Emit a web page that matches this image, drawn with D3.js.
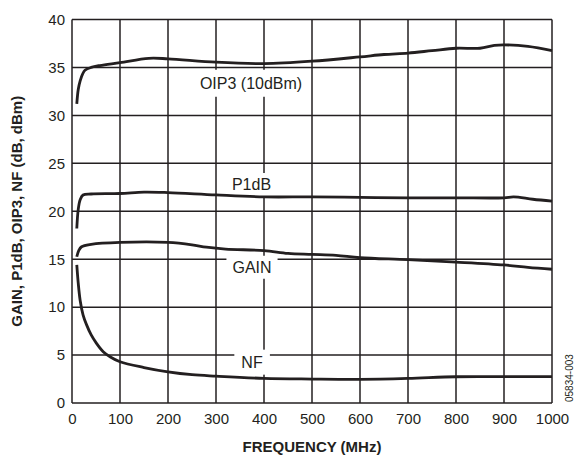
<!DOCTYPE html>
<html>
<head>
<meta charset="utf-8">
<title>gain p1db oip3 nf</title>
<style>
  body { margin: 0; background: #fff; }
  text { font-family: "Liberation Sans", Arial, sans-serif; fill: #231f20; }
  .axis text { font-size: 15px; }
  .grid line { stroke: #231f20; stroke-width: 1.5; }
</style>
</head>
<body>
<script src="https://cdn.jsdelivr.net/npm/d3@7"></script>
<script>
var width = 574, height = 457;
var margin = {left: 72, right: 22, top: 19.5, bottom: 54};

// frequency points (MHz) and values
var oip3Freq = [10, 13, 17, 22, 27, 40, 58, 100, 160, 200, 300, 400, 500, 600, 650, 700, 750, 800, 850, 880, 900, 950, 1000];
var oip3 = [31.2, 32.7, 33.6, 34.3, 34.7, 35.0, 35.2, 35.5, 35.95, 35.9, 35.55, 35.4, 35.65, 36.1, 36.35, 36.5, 36.75, 37.0, 37.0, 37.3, 37.35, 37.2, 36.75];

var p1dbFreq = [10, 13, 17, 23, 40, 100, 150, 200, 300, 400, 500, 600, 700, 800, 900, 920, 960, 1000];
var p1db = [18.2, 20.2, 21.2, 21.7, 21.8, 21.85, 22.0, 21.95, 21.7, 21.5, 21.5, 21.45, 21.4, 21.4, 21.4, 21.5, 21.25, 21.05];

var gainFreq = [10, 14, 20, 40, 100, 200, 250, 280, 320, 400, 450, 500, 550, 600, 700, 800, 900, 950, 1000];
var gain = [15.25, 15.9, 16.3, 16.55, 16.75, 16.75, 16.5, 16.25, 16.05, 15.9, 15.6, 15.5, 15.4, 15.15, 14.95, 14.7, 14.4, 14.15, 13.95];

var nfFreq = [10, 13, 17, 23, 30, 40, 50, 65, 80, 100, 150, 200, 250, 300, 400, 500, 600, 700, 800, 900, 1000];
var nf = [14.4, 12.5, 10.7, 9.2, 8.2, 7.1, 6.3, 5.35, 4.8, 4.3, 3.7, 3.25, 2.95, 2.8, 2.57, 2.5, 2.47, 2.57, 2.74, 2.75, 2.75];

var xTicks = [0, 100, 200, 300, 400, 500, 600, 700, 800, 900, 1000];
var yTicks = [0, 5, 10, 15, 20, 25, 30, 35, 40];

var svg = d3.select('body').append('svg')
  .attr('width', width).attr('height', height);

var x = d3.scaleLinear().domain([0, 1000]).range([margin.left, width - margin.right]);
var y = d3.scaleLinear().domain([0, 40]).range([height - margin.bottom, margin.top]);

// grid
var grid = svg.append('g').attr('class', 'grid');
grid.selectAll('.vx').data(xTicks).enter().append('line')
  .attr('x1', d => x(d)).attr('x2', d => x(d))
  .attr('y1', y(0)).attr('y2', y(40));
grid.selectAll('.hy').data(yTicks).enter().append('line')
  .attr('x1', x(0)).attr('x2', x(1000))
  .attr('y1', d => y(d)).attr('y2', d => y(d));

// axes (labels only)
var xAxis = d3.axisBottom(x).tickValues(xTicks).tickSize(0).tickPadding(10)
  .tickFormat(d3.format('d'));
var yAxis = d3.axisLeft(y).tickValues(yTicks).tickSize(0).tickPadding(7);
svg.append('g').attr('class', 'axis')
  .attr('transform', 'translate(0,' + y(0) + ')')
  .call(xAxis).call(g => g.select('.domain').remove());
svg.append('g').attr('class', 'axis')
  .attr('transform', 'translate(' + x(0) + ',0)')
  .call(yAxis).call(g => g.select('.domain').remove());

// curve labels with white boxes that cut the grid
function label(txt, fx, fy, padX, padY) {
  var g = svg.append('g');
  var t = g.append('text').attr('x', x(fx)).attr('y', y(fy))
    .attr('text-anchor', 'middle').attr('dy', '0.35em')
    .style('font-size', '16px').text(txt);
  var b = t.node().getBBox();
  g.insert('rect', 'text')
    .attr('x', b.x - padX).attr('y', b.y - padY)
    .attr('width', b.width + 2 * padX).attr('height', b.height + 2 * padY)
    .attr('fill', '#fff');
}
label('OIP3 (10dBm)', 373, 33.36, 3, 5);
label('P1dB', 374, 22.8, 8, 3);
label('GAIN', 375, 14.17, 6, 3);
label('NF', 375, 4.27, 7, 4);

// curves
var line = d3.line().curve(d3.curveCatmullRom.alpha(0.5))
  .x(d => x(d[0])).y(d => y(d[1]));
var series = [[oip3Freq, oip3], [p1dbFreq, p1db], [gainFreq, gain], [nfFreq, nf]];
svg.selectAll('.curve').data(series).enter().append('path')
  .attr('class', 'curve')
  .attr('d', s => line(d3.zip(s[0], s[1])))
  .attr('fill', 'none').attr('stroke', '#231f20').attr('stroke-width', 2.8)
  .attr('stroke-linejoin', 'round');

// titles
svg.append('text')
  .attr('x', x(500)).attr('y', 452)
  .attr('text-anchor', 'middle')
  .style('font-size', '15px').style('font-weight', 'bold')
  .text('FREQUENCY (MHz)');
svg.append('text')
  .attr('transform', 'translate(22,' + y(20) + ') rotate(-90)')
  .attr('text-anchor', 'middle')
  .style('font-size', '15px').style('font-weight', 'bold')
  .text('GAIN, P1dB, OIP3, NF (dB, dBm)');
svg.append('text')
  .attr('transform', 'translate(573,402) rotate(-90)')
  .attr('text-anchor', 'start')
  .style('font-size', '10px')
  .text('05834-003');
</script>
</body>
</html>
